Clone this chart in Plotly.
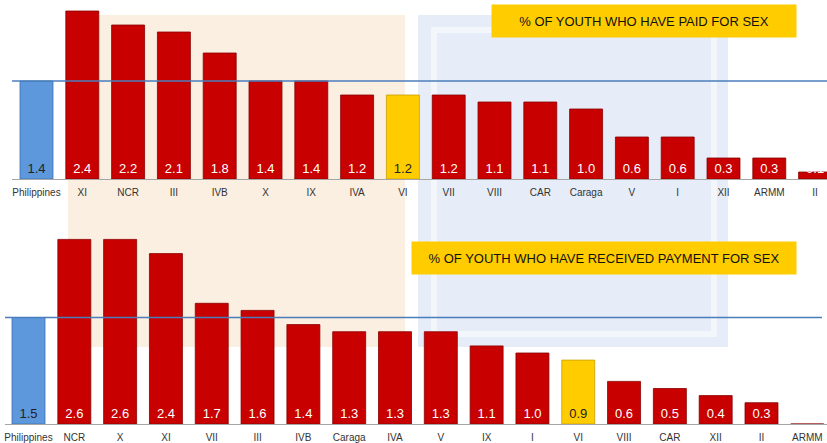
import plotly.graph_objects as go

# ---- data ----
paid_regions = ["Philippines", "XI", "NCR", "III", "IVB", "X", "IX", "IVA", "VI",
                "VII", "VIII", "CAR", "Caraga", "V", "I", "XII", "ARMM", "II"]
paid_values = [1.4, 2.4, 2.2, 2.1, 1.8, 1.4, 1.4, 1.2, 1.2,
               1.2, 1.1, 1.1, 1.0, 0.6, 0.6, 0.3, 0.3, 0.1]

recv_regions = ["Philippines", "NCR", "X", "XI", "VII", "III", "IVB", "Caraga", "IVA",
                "V", "IX", "I", "VI", "VIII", "CAR", "XII", "II", "ARMM"]
recv_values = [1.5, 2.6, 2.6, 2.4, 1.7, 1.6, 1.4, 1.3, 1.3,
               1.3, 1.1, 1.0, 0.9, 0.6, 0.5, 0.4, 0.3, 0.0]

title_paid = "% OF YOUTH WHO HAVE PAID FOR SEX"
title_recv = "% OF YOUTH WHO HAVE RECEIVED PAYMENT FOR SEX"

# ---- styling ----
W, H = 827, 443
FONT = "Liberation Sans Narrow, Arial Narrow, Liberation Sans, Arial, sans-serif"
RED, BLUE, YELLOW = "#C80000", "#5E98DC", "#FFCC00"
EDGE = {"Philippines": "#3E6FB0", "VI": "#C9A000"}


def colors(regions):
    out = []
    for r in regions:
        if r == "Philippines":
            out.append(BLUE)
        elif r == "VI":
            out.append(YELLOW)
        else:
            out.append(RED)
    return out


def edges(regions):
    return [EDGE.get(r, "#8A0000") for r in regions]


def txtcolors(regions):
    return ["#222222" if r in ("Philippines", "VI") else "white" for r in regions]


def labels(values):
    return [f"{v:.1f}" if v > 0 else "" for v in values]


fig = go.Figure()

for regions, values, xa, ya in [(paid_regions, paid_values, "x", "y"),
                                (recv_regions, recv_values, "x2", "y2")]:
    fig.add_trace(go.Bar(
        x=list(range(len(regions))), y=values, xaxis=xa, yaxis=ya,
        marker=dict(color=colors(regions), line=dict(color=edges(regions), width=0.8)),
        text=labels(values), textposition="inside", insidetextanchor="start",
        constraintext="none",
        textfont=dict(family=FONT, size=13, color=txtcolors(regions)),
        width=0.72, showlegend=False, hoverinfo="skip",
    ))

# axis domains (pixel based)
top_x0, bot_x0 = 12 / W, 5 / W
xcommon = dict(tickmode="array", showgrid=False, zeroline=False, automargin=False,
               showline=True, linecolor="#A6A6A6", linewidth=1.2, ticks="",
               ticklabelstandoff=4,
               tickfont=dict(family=FONT, size=10, color="#333333"))
fig.update_layout(
    width=W, height=H, margin=dict(l=0, r=0, t=0, b=0, autoexpand=False),
    paper_bgcolor="white", plot_bgcolor="rgba(0,0,0,0)",
    xaxis=dict(domain=[top_x0, 1], range=[-0.535, 17.26], anchor="y",
               tickvals=list(range(len(paid_regions))), ticktext=paid_regions,
               **xcommon),
    yaxis=dict(domain=[(H - 179) / H, 1], range=[0, 179 / 70], anchor="x",
               visible=False, showgrid=False, automargin=False),
    xaxis2=dict(domain=[bot_x0, 1], range=[-0.513, 17.43], anchor="y2",
                tickvals=list(range(len(recv_regions))), ticktext=recv_regions,
                **xcommon),
    yaxis2=dict(domain=[(H - 424) / H, (H - 220) / H], range=[0, 204 / 71],
                anchor="x2", visible=False, showgrid=False, automargin=False),
    bargap=0.28,
)

shapes = [
    # faint watermark blocks behind the chart
    dict(type="rect", xref="paper", yref="paper", layer="below",
         x0=68 / W, x1=405 / W, y0=(H - 347) / H, y1=(H - 15) / H,
         fillcolor="#FBEFE1", line=dict(width=0)),
    dict(type="rect", xref="paper", yref="paper", layer="below",
         x0=418 / W, x1=728 / W, y0=(H - 347) / H, y1=(H - 15) / H,
         fillcolor="#E6EDF8", line=dict(width=0)),
    dict(type="rect", xref="paper", yref="paper", layer="below",
         x0=434 / W, x1=714 / W, y0=(H - 334) / H, y1=(H - 30) / H,
         fillcolor="rgba(0,0,0,0)", line=dict(width=6, color="#F3F6FB")),
    # national reference lines
    dict(type="line", xref="paper", yref="y", x0=top_x0, x1=1,
         y0=paid_values[0], y1=paid_values[0], line=dict(color="#4A7EBB", width=1.5)),
    dict(type="line", xref="paper", yref="y2", x0=bot_x0, x1=822 / W,
         y0=recv_values[0], y1=recv_values[0], line=dict(color="#4A7EBB", width=1.5)),
]
fig.update_layout(shapes=shapes)

fig.add_annotation(xref="paper", yref="paper", x=644 / W, y=(H - 21) / H,
                   xanchor="center", yanchor="middle",
                   text=title_paid, showarrow=False, width=302, height=30,
                   bgcolor=YELLOW, font=dict(family=FONT, size=13, color="#111111"))
fig.add_annotation(xref="paper", yref="paper", x=604 / W, y=(H - 258) / H,
                   xanchor="center", yanchor="middle",
                   text=title_recv, showarrow=False, width=382, height=30,
                   bgcolor=YELLOW, font=dict(family=FONT, size=13, color="#111111"))

fig.write_html("out.html",
               config={"displayModeBar": False},
               post_script="document.body.style.margin='0';"
                           "document.body.style.overflow='hidden';")
